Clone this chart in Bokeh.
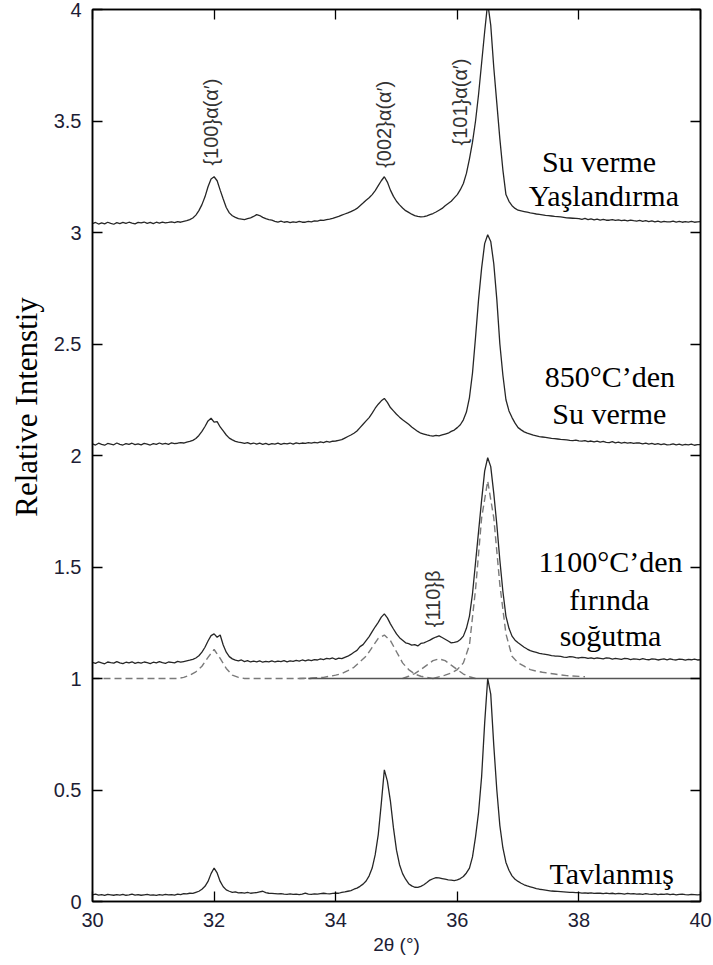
import numpy as np
from math import pi
from bokeh.plotting import figure
from bokeh.layouts import row
from bokeh.models import Range1d, FixedTicker, LinearAxis, Label, CustomJSTickFormatter
from bokeh.embed import file_html
from bokeh.resources import INLINE

# ---------------- data ----------------
TWO_THETA = np.round(np.arange(600, 801) / 20.0, 2)   # 2θ sampling grid 30.00 ... 40.00 (0.05 step)

TAVLANMIS = [
    0.030, 0.033, 0.029, 0.031, 0.027, 0.032, 0.030, 0.028, 0.031, 0.029,
    0.032, 0.028, 0.030, 0.033, 0.029, 0.031, 0.028, 0.030, 0.032, 0.029,
    0.030, 0.027, 0.031, 0.029, 0.032, 0.030, 0.031, 0.029, 0.033, 0.031,
    0.035, 0.034, 0.037, 0.036, 0.041, 0.046, 0.055, 0.068, 0.090, 0.125,
    0.150, 0.128, 0.090, 0.066, 0.052, 0.046, 0.041, 0.043, 0.039, 0.040,
    0.038, 0.041, 0.037, 0.039, 0.040, 0.043, 0.046, 0.040, 0.037, 0.036,
    0.035, 0.034, 0.035, 0.033, 0.032, 0.034, 0.032, 0.033, 0.031, 0.033,
    0.038, 0.033, 0.032, 0.034, 0.033, 0.035, 0.037, 0.035, 0.034, 0.036,
    0.038, 0.037, 0.041, 0.043, 0.046, 0.049, 0.055, 0.060, 0.068, 0.078,
    0.092, 0.115, 0.150, 0.210, 0.300, 0.440, 0.590, 0.540, 0.450, 0.330,
    0.230, 0.165, 0.125, 0.100, 0.080, 0.070, 0.064, 0.063, 0.068, 0.075,
    0.085, 0.096, 0.102, 0.107, 0.106, 0.103, 0.100, 0.097, 0.096, 0.094,
    0.097, 0.103, 0.112, 0.128, 0.150, 0.200, 0.290, 0.400, 0.560, 0.800,
    1.000, 0.930, 0.700, 0.500, 0.340, 0.240, 0.175, 0.140, 0.115, 0.100,
    0.090, 0.082, 0.075, 0.070, 0.066, 0.062, 0.058, 0.055, 0.053, 0.051,
    0.049, 0.047, 0.046, 0.045, 0.044, 0.043, 0.042, 0.041, 0.041, 0.040,
    0.040, 0.038, 0.039, 0.037, 0.039, 0.036, 0.038, 0.037, 0.035, 0.038,
    0.035, 0.037, 0.034, 0.036, 0.035, 0.033, 0.036, 0.034, 0.035, 0.033,
    0.034, 0.032, 0.035, 0.033, 0.032, 0.034, 0.031, 0.033, 0.032, 0.034,
    0.031, 0.033, 0.030, 0.032, 0.033, 0.031, 0.030, 0.032, 0.031, 0.030,
    0.031]

FIRINDA_1100 = [
    1.072, 1.068, 1.075, 1.070, 1.066, 1.074, 1.071, 1.069, 1.076, 1.070,
    1.067, 1.073, 1.070, 1.075, 1.068, 1.072, 1.069, 1.074, 1.071, 1.067,
    1.073, 1.070, 1.076, 1.071, 1.068, 1.074, 1.072, 1.070, 1.077, 1.073,
    1.076, 1.079, 1.082, 1.086, 1.092, 1.102, 1.118, 1.140, 1.168, 1.192,
    1.200, 1.185, 1.195, 1.150, 1.118, 1.098, 1.088, 1.082, 1.079, 1.083,
    1.076, 1.080, 1.074, 1.078, 1.075, 1.079, 1.073, 1.077, 1.075, 1.079,
    1.074, 1.078, 1.076, 1.080, 1.075, 1.079, 1.077, 1.081, 1.078, 1.083,
    1.079, 1.084, 1.080, 1.085, 1.083, 1.088, 1.085, 1.090, 1.088, 1.092,
    1.086, 1.091, 1.089, 1.095, 1.100, 1.108, 1.118, 1.126, 1.143, 1.152,
    1.170, 1.188, 1.210, 1.232, 1.252, 1.275, 1.290, 1.272, 1.245, 1.222,
    1.200, 1.183, 1.172, 1.160, 1.156, 1.150, 1.152, 1.146, 1.157, 1.160,
    1.166, 1.172, 1.180, 1.186, 1.191, 1.184, 1.176, 1.168, 1.160, 1.162,
    1.165, 1.175, 1.190, 1.225, 1.280, 1.380, 1.520, 1.660, 1.800, 1.930,
    1.990, 1.950, 1.830, 1.690, 1.530, 1.390, 1.280, 1.225, 1.190, 1.172,
    1.160, 1.150, 1.140, 1.132, 1.125, 1.121, 1.117, 1.113, 1.110, 1.108,
    1.106, 1.103, 1.101, 1.100, 1.099, 1.096, 1.095, 1.098, 1.097, 1.094,
    1.092, 1.095, 1.094, 1.090, 1.093, 1.089, 1.092, 1.090, 1.088, 1.092,
    1.091, 1.087, 1.090, 1.088, 1.086, 1.090, 1.089, 1.085, 1.088, 1.087,
    1.085, 1.089, 1.086, 1.084, 1.088, 1.087, 1.083, 1.086, 1.088, 1.084,
    1.088, 1.085, 1.083, 1.087, 1.086, 1.082, 1.086, 1.084, 1.087, 1.083,
    1.084]

SU_VERME_850 = [
    2.052, 2.047, 2.055, 2.050, 2.046, 2.054, 2.051, 2.048, 2.056, 2.050,
    2.047, 2.053, 2.050, 2.055, 2.049, 2.052, 2.048, 2.054, 2.051, 2.047,
    2.053, 2.050, 2.056, 2.051, 2.054, 2.050, 2.057, 2.053, 2.055, 2.058,
    2.056, 2.060, 2.063, 2.068, 2.076, 2.090, 2.108, 2.130, 2.155, 2.167,
    2.150, 2.152, 2.128, 2.110, 2.092, 2.078, 2.070, 2.063, 2.060, 2.058,
    2.054, 2.058, 2.052, 2.056, 2.051, 2.055, 2.050, 2.054, 2.049, 2.053,
    2.051, 2.055, 2.050, 2.054, 2.052, 2.056, 2.051, 2.057, 2.053, 2.056,
    2.054, 2.058, 2.055, 2.059, 2.057, 2.061, 2.058, 2.063, 2.060, 2.064,
    2.065, 2.068, 2.071, 2.078, 2.085, 2.092, 2.100, 2.110, 2.125, 2.140,
    2.155, 2.170, 2.190, 2.212, 2.230, 2.245, 2.256, 2.238, 2.215, 2.200,
    2.185, 2.172, 2.160, 2.150, 2.140, 2.128, 2.118, 2.108, 2.100, 2.096,
    2.092, 2.089, 2.087, 2.090, 2.088, 2.092, 2.096, 2.100, 2.108, 2.114,
    2.125, 2.138, 2.160, 2.195, 2.260, 2.370, 2.530, 2.700, 2.840, 2.950,
    2.990, 2.960, 2.860, 2.700, 2.500, 2.360, 2.250, 2.200, 2.170, 2.145,
    2.125, 2.115, 2.106, 2.100, 2.096, 2.091, 2.088, 2.085, 2.083, 2.081,
    2.079, 2.077, 2.076, 2.074, 2.072, 2.071, 2.070, 2.068, 2.067, 2.069,
    2.066, 2.064, 2.067, 2.062, 2.065, 2.061, 2.064, 2.060, 2.063, 2.059,
    2.058, 2.062, 2.057, 2.060, 2.056, 2.059, 2.055, 2.058, 2.054, 2.057,
    2.056, 2.052, 2.055, 2.051, 2.054, 2.050, 2.053, 2.049, 2.052, 2.048,
    2.049, 2.052, 2.048, 2.051, 2.047, 2.050, 2.048, 2.051, 2.046, 2.049,
    2.049]

YASLANDIRMA = [
    3.040, 3.045, 3.038, 3.043, 3.039, 3.046, 3.041, 3.037, 3.044, 3.040,
    3.045, 3.041, 3.046, 3.042, 3.039, 3.045, 3.043, 3.047, 3.041, 3.045,
    3.040, 3.046, 3.042, 3.047, 3.043, 3.045, 3.048, 3.044, 3.049, 3.046,
    3.050, 3.053, 3.058, 3.065, 3.078, 3.098, 3.125, 3.160, 3.205, 3.240,
    3.250, 3.232, 3.190, 3.150, 3.112, 3.088, 3.075, 3.068, 3.062, 3.060,
    3.058, 3.062, 3.066, 3.072, 3.080, 3.076, 3.068, 3.062, 3.058, 3.055,
    3.050, 3.047, 3.051, 3.046, 3.049, 3.044, 3.048, 3.045, 3.050, 3.046,
    3.046, 3.050, 3.048, 3.052, 3.051, 3.055, 3.054, 3.058, 3.060, 3.063,
    3.068, 3.072, 3.078, 3.083, 3.088, 3.094, 3.100, 3.108, 3.120, 3.132,
    3.145, 3.156, 3.170, 3.188, 3.210, 3.232, 3.250, 3.226, 3.190, 3.162,
    3.140, 3.124, 3.110, 3.098, 3.090, 3.082, 3.076, 3.072, 3.070, 3.071,
    3.075, 3.080, 3.085, 3.092, 3.100, 3.108, 3.120, 3.130, 3.140, 3.155,
    3.170, 3.192, 3.220, 3.265, 3.330, 3.405, 3.500, 3.620, 3.760, 3.900,
    4.030, 3.930, 3.740, 3.580, 3.420, 3.280, 3.170, 3.140, 3.120, 3.108,
    3.100, 3.097, 3.094, 3.091, 3.088, 3.086, 3.083, 3.081, 3.079, 3.077,
    3.076, 3.074, 3.072, 3.071, 3.070, 3.068, 3.066, 3.065, 3.064, 3.063,
    3.062, 3.059, 3.063, 3.058, 3.061, 3.057, 3.060, 3.056, 3.059, 3.055,
    3.055, 3.058, 3.054, 3.057, 3.053, 3.056, 3.052, 3.056, 3.053, 3.051,
    3.054, 3.050, 3.053, 3.049, 3.052, 3.048, 3.051, 3.047, 3.050, 3.048,
    3.048, 3.051, 3.047, 3.050, 3.046, 3.049, 3.047, 3.050, 3.046, 3.048,
    3.049]

# fitted components of the 1100°C pattern (dashed)
FIT_100_X = [30.0, 31.4, 31.5, 31.6, 31.7, 31.8, 31.9, 32.0, 32.1, 32.2, 32.3, 32.4, 32.5, 33.6]
FIT_100_Y = [1.0, 1.0, 1.005, 1.015, 1.03, 1.055, 1.095, 1.13, 1.09, 1.045, 1.015, 1.005, 1.0, 1.0]
FIT_002_X = [33.4, 33.6, 33.8, 33.9, 34.0, 34.1, 34.2, 34.3, 34.4, 34.5, 34.6, 34.7, 34.8,
             34.9, 35.0, 35.1, 35.2, 35.3, 35.4, 35.5, 35.6]
FIT_002_Y = [1.0, 1.002, 1.005, 1.01, 1.015, 1.022, 1.035, 1.05, 1.075, 1.10, 1.14, 1.18, 1.195,
             1.17, 1.12, 1.07, 1.04, 1.02, 1.01, 1.005, 1.0]
FIT_110B_X = [35.1, 35.2, 35.3, 35.4, 35.5, 35.6, 35.7, 35.8, 35.9, 36.0, 36.1, 36.2, 36.3]
FIT_110B_Y = [1.0, 1.01, 1.022, 1.04, 1.06, 1.08, 1.088, 1.08, 1.06, 1.04, 1.02, 1.008, 1.0]
FIT_101_X = [35.6, 35.8, 35.9, 36.0, 36.1, 36.2, 36.3, 36.4, 36.5, 36.6, 36.7, 36.8, 36.9,
             37.0, 37.1, 37.2, 37.3, 37.4, 37.5, 37.6, 37.7, 37.8, 38.1]
FIT_101_Y = [1.0, 1.015, 1.025, 1.04, 1.07, 1.15, 1.40, 1.72, 1.886, 1.72, 1.42, 1.20, 1.10,
             1.07, 1.055, 1.04, 1.033, 1.028, 1.024, 1.02, 1.016, 1.013, 1.008]

X_TICKS = [30, 32, 34, 36, 38, 40]
Y_TICKS = [0, 0.5, 1, 1.5, 2, 2.5, 3, 3.5, 4]
SEPARATOR_X = [33.55, 40.0]
SEPARATOR_Y = [1.0, 1.0]

PEAK_LABELS = ["{100}α(α′)", "{002}α(α′)", "{101}α(α′)", "{110}β"]
SAMPLE_LABELS = [["Su verme", "Yaşlandırma"],
                 ["850°C’den", "Su verme"],
                 ["1100°C’den", "fırında", "soğutma"],
                 ["Tavlanmış"]]
Y_LABEL = "Relative Intenstiy"
X_LABEL = "2θ (°)"

TICK_COLOR = "#1d1d35"

# ---------------- main figure ----------------
p = figure(width=663, height=965, x_range=Range1d(30, 40), y_range=Range1d(0, 4),
           output_backend="svg", toolbar_location=None,
           min_border_left=41, min_border_right=13, min_border_top=9, min_border_bottom=64)
p.grid.visible = False
p.outline_line_color = "black"
p.outline_line_width = 1.5
p.background_fill_color = "white"
p.border_fill_color = "white"


def style_axis(ax, labels=True):
    ax.axis_line_color = "black"
    ax.axis_line_width = 1.5
    ax.major_tick_in = 10
    ax.major_tick_out = 0
    ax.major_tick_line_color = "black"
    ax.major_tick_line_width = 1.3
    ax.minor_tick_line_color = None
    if labels:
        ax.major_label_text_font = "Liberation Sans"
        ax.major_label_text_font_size = "20px"
        ax.major_label_text_color = TICK_COLOR
    else:
        ax.major_label_text_font_size = "1px"
        ax.major_label_text_color = None
        ax.major_label_standoff = 0


xa = p.xaxis[0]
xa.ticker = FixedTicker(ticks=X_TICKS)
style_axis(xa)
xa.major_label_standoff = 11
xa.axis_label = X_LABEL
xa.axis_label_text_font = "Liberation Sans"
xa.axis_label_text_font_size = "19px"
xa.axis_label_text_font_style = "normal"
xa.axis_label_text_color = TICK_COLOR
xa.axis_label_standoff = 4

ya = p.yaxis[0]
ya.ticker = FixedTicker(ticks=Y_TICKS)
ya.formatter = CustomJSTickFormatter(code="return String(tick);")
style_axis(ya)
ya.major_label_standoff = 11

top = LinearAxis(ticker=FixedTicker(ticks=X_TICKS))
style_axis(top, labels=False)
p.add_layout(top, "above")
right = LinearAxis(ticker=FixedTicker(ticks=Y_TICKS))
style_axis(right, labels=False)
p.add_layout(right, "right")

# fitted components (dashed)
for fx, fy in [(FIT_100_X, FIT_100_Y), (FIT_002_X, FIT_002_Y),
               (FIT_110B_X, FIT_110B_Y), (FIT_101_X, FIT_101_Y)]:
    p.line(fx, fy, line_color="#7a7a7a", line_width=1.4, line_dash="7 4")

# panel separator
p.line(SEPARATOR_X, SEPARATOR_Y, line_color="#555555", line_width=1.6)

# measured patterns
for ys in [TAVLANMIS, FIRINDA_1100, SU_VERME_850, YASLANDIRMA]:
    p.line(TWO_THETA, ys, line_color="#262626", line_width=1.3)

# peak annotations (rotated)
peak_pos = [(31.95, 3.30), (34.80, 3.29), (36.05, 3.39), (35.60, 1.23)]
for txt, (px, py) in zip(PEAK_LABELS, peak_pos):
    p.add_layout(Label(x=px, y=py, text=txt, angle=pi / 2, text_align="left",
                       text_baseline="middle", text_font="Liberation Sans",
                       text_font_size="20px", text_color="#333333"))

# sample labels (serif)
sample_pos = [[(38.33, 3.318), (38.41, 3.166)],
              [(38.51, 2.355), (38.50, 2.190)],
              [(38.52, 1.525), (38.50, 1.356), (38.52, 1.195)],
              [(38.54, 0.125)]]
for lines, poss in zip(SAMPLE_LABELS, sample_pos):
    for txt, (sx, sy) in zip(lines, poss):
        p.add_layout(Label(x=sx, y=sy, text=txt, text_align="center",
                           text_baseline="alphabetic", text_font="Liberation Serif",
                           text_font_size="30px", text_color="black"))

# ---------------- narrow strip holding the y-axis title ----------------
strip = figure(width=50, height=965, x_range=Range1d(0, 50), y_range=Range1d(0, 965),
               output_backend="svg", toolbar_location=None,
               x_axis_location=None, y_axis_location=None, min_border=0)
strip.grid.visible = False
strip.outline_line_color = None
strip.add_layout(Label(x=26, y=535, text=Y_LABEL, angle=pi / 2, text_align="center",
                       text_baseline="alphabetic", text_font="Liberation Serif",
                       text_font_size="31px", text_color="black"))

layout = row(strip, p, spacing=0)
open("out.html", "w").write(file_html(layout, INLINE))
